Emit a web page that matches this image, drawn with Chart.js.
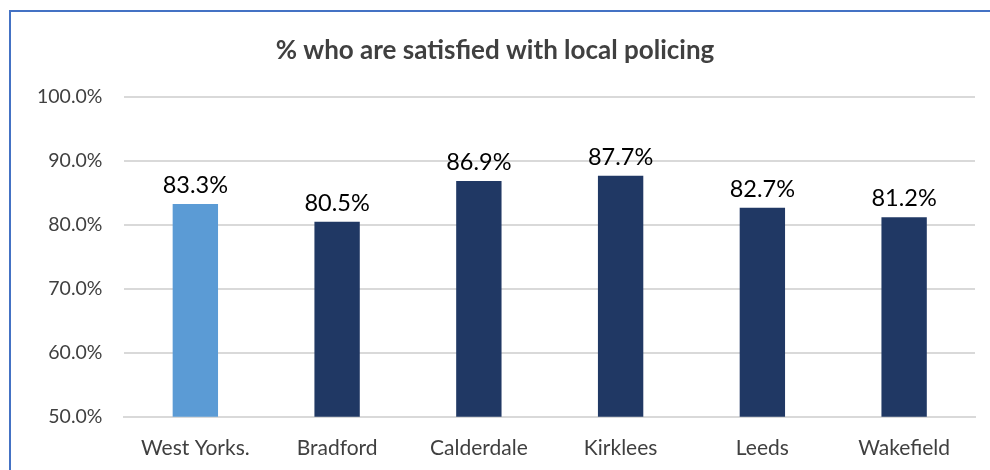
<!DOCTYPE html>
<html>
<head>
<meta charset="utf-8">
<script src="https://cdn.jsdelivr.net/npm/chart.js@4"></script>
<style>
  html, body { margin: 0; padding: 0; background: #fff; overflow: hidden; }
  #frame {
    position: absolute; left: 9px; top: 10px; width: 1010px; height: 480px;
    border: 2px solid #4472C4; box-sizing: border-box;
  }
  #chart { position: absolute; left: 0; top: 0; }
</style>
</head>
<body>
<div id="frame"></div>
<canvas id="chart" width="1010" height="473"></canvas>
<script>
// Values
const areas = ["West Yorks.", "Bradford", "Calderdale", "Kirklees", "Leeds", "Wakefield"];
const satisfied = [83.3, 80.5, 86.9, 87.7, 82.7, 81.2];
const barColors = ["#5B9BD5", "#203864", "#203864", "#203864", "#203864", "#203864"];
const yTicks = [50, 60, 70, 80, 90, 100];

const FONT = "Lato, 'Open Sans', sans-serif";

// small inline replacement for the datalabels plugin
const valueLabels = {
  id: "valueLabels",
  afterDatasetsDraw(chart) {
    const ctx = chart.ctx;
    const meta = chart.getDatasetMeta(0);
    ctx.save();
    ctx.font = "23.5px " + FONT;
    ctx.fillStyle = "#000";
    ctx.textAlign = "center";
    ctx.textBaseline = "bottom";
    meta.data.forEach((bar, i) => {
      ctx.fillText(satisfied[i].toFixed(1) + "%", bar.x, bar.y - 7);
    });
    ctx.restore();
  },
};

new Chart(document.getElementById("chart").getContext("2d"), {
  type: "bar",
  data: {
    labels: areas,
    datasets: [{
      data: satisfied,
      backgroundColor: barColors,
      barPercentage: 0.32,
      categoryPercentage: 1,
    }],
  },
  options: {
    responsive: false,
    animation: false,
    layout: { padding: { left: 15, right: 35, top: 0, bottom: 1 } },
    plugins: {
      legend: { display: false },
      tooltip: { enabled: false },
      title: {
        display: true,
        text: "% who are satisfied with local policing",
        color: "#404040",
        font: { family: FONT, size: 26, weight: "bold" },
        padding: { top: 35, bottom: 31 },
      },
    },
    scales: {
      x: {
        grid: { display: false },
        border: { color: "#D9D9D9", width: 2 },
        ticks: { color: "#404040", font: { family: FONT, size: 21 }, padding: 11 },
      },
      y: {
        min: 50,
        max: 100,
        afterBuildTicks: (axis) => { axis.ticks = yTicks.map((v) => ({ value: v })); },
        grid: { color: "#D9D9D9", lineWidth: 2, drawTicks: false },
        border: { display: false },
        ticks: {
          color: "#404040",
          font: { family: FONT, size: 19.5 },
          padding: 22,
          callback: (v) => v.toFixed(1) + "%",
        },
      },
    },
  },
  plugins: [valueLabels],
});
</script>
</body>
</html>
